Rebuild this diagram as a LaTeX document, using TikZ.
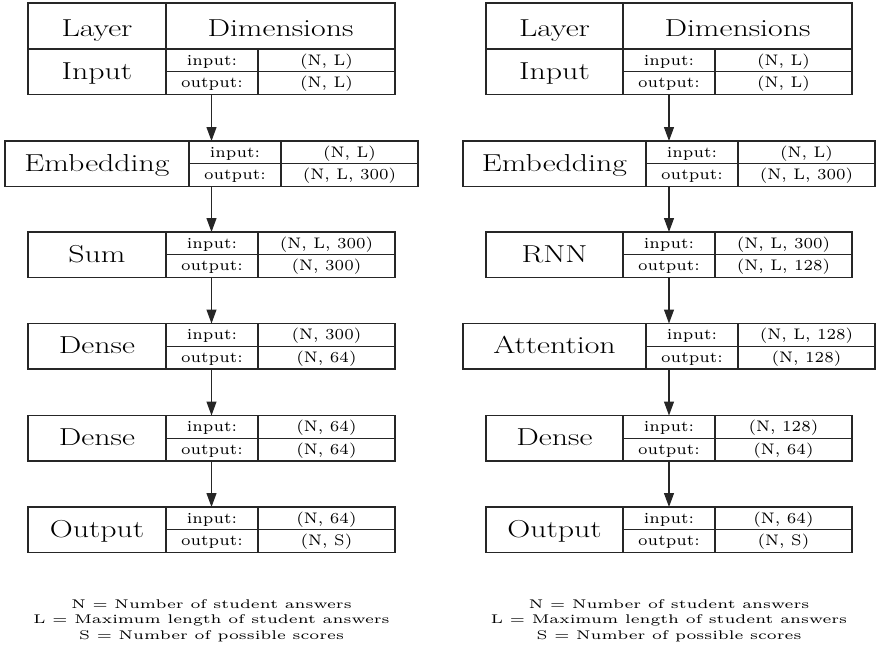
\documentclass[tikz,border=0pt]{standalone}
\usepackage{graphicx}
\usetikzlibrary{arrows.meta}
\newcommand{\bigtxt}[1]{\scalebox{1.3}[1]{\fontsize{24.5}{28}\selectfont #1}}
\newcommand{\smtxt}[1]{\scalebox{2.6}[2.55]{\fontsize{6}{7}\selectfont #1}}
\newcommand{\legtxt}[1]{\scalebox{2.7}[2.1]{\fontsize{6}{7}\selectfont #1}}
\tikzset{
  rule/.style={line width=1.2pt, draw=black!85},
  boxcell/.style={rule, rectangle, inner sep=0pt, outer sep=0pt, minimum height=45.5pt},
  txt/.style={inner sep=0pt, anchor=base},
  arr/.style={line width=1.2pt, draw=black!85, fill=black, -{Triangle[width=10pt,length=14pt]}},
}
% #1 name, #2 xL, #3 xA, #4 yT, #5 title, #6 in, #7 out
\newcommand{\layerbox}[7]{%
  \node[boxcell, minimum width={(#3+229-(#2))*1pt}, anchor=north west] (#1) at (#2,#4) {};
  \node[txt] (#1-t) at ({(#2+#3)/2},{#4+30}) {\bigtxt{#5}};
  \draw[rule] (#3,#4) -- ++(0,45.5);
  \draw[rule] (#3+92,#4) -- ++(0,45.5);
  \draw[rule] (#3,#4+22.75) -- ++(229,0);
  \node[txt] (#1-il) at ({#3+46},{#4+16.2}) {\smtxt{input:}};
  \node[txt] (#1-iv) at ({#3+160.5},{#4+16.2}) {\smtxt{#6}};
  \node[txt] (#1-ol) at ({#3+46},{#4+38.9}) {\smtxt{output:}};
  \node[txt] (#1-ov) at ({#3+160.5},{#4+38.9}) {\smtxt{#7}};
}
\newcommand{\headbox}[4]{%
  % #1 name, #2 xL, #3 xA, #4 yT
  \node[boxcell, minimum width=229pt+(#3-(#2))*1pt, minimum height=46pt, anchor=north west] (#1) at (#2,#4) {};
  \draw[rule] (#3,#4) -- ++(0,46);
  \node[txt] (#1-a) at ({(#2+#3)/2},{#4+33.5}) {\bigtxt{Layer}};
  \node[txt] (#1-b) at ({#3+114.5},{#4+33.5}) {\bigtxt{Dimensions}};
}
\begin{document}
\begin{tikzpicture}[x=1pt, y=-1pt]
\useasboundingbox (0,0) rectangle (876,648);
% ---------- left model ----------
\headbox{Lh}{28}{166}{3}
\layerbox{La}{28}{166}{49}{Input}{(N, L)}{(N, L)}
\layerbox{Lb}{5}{189}{141}{Embedding}{(N, L)}{(N, L, 300)}
\layerbox{Lc}{28}{166}{232}{Sum}{(N, L, 300)}{(N, 300)}
\layerbox{Ld}{28}{166}{323.5}{Dense}{(N, 300)}{(N, 64)}
\layerbox{Le}{28}{166}{415.5}{Dense}{(N, 64)}{(N, 64)}
\layerbox{Lf}{28}{166}{507}{Output}{(N, 64)}{(N, S)}
\draw[arr] (La.south) -- (Lb.north);
\draw[arr] (Lb.south) -- (Lc.north);
\draw[arr] (Lc.south) -- (Ld.north);
\draw[arr] (Ld.south) -- (Le.north);
\draw[arr] (Le.south) -- (Lf.north);
% ---------- right model ----------
\headbox{Rh}{486}{623}{3}
\layerbox{Ra}{486}{623}{49}{Input}{(N, L)}{(N, L)}
\layerbox{Rb}{463}{646}{141}{Embedding}{(N, L)}{(N, L, 300)}
\layerbox{Rc}{486}{623}{232}{RNN}{(N, L, 300)}{(N, L, 128)}
\layerbox{Rd}{463}{646}{323.5}{Attention}{(N, L, 128)}{(N, 128)}
\layerbox{Re}{486}{623}{415.5}{Dense}{(N, 128)}{(N, 64)}
\layerbox{Rf}{486}{623}{507}{Output}{(N, 64)}{(N, S)}
\draw[arr] (Ra.south) -- (Rb.north);
\draw[arr] (Rb.south) -- (Rc.north);
\draw[arr] (Rc.south) -- (Rd.north);
\draw[arr] (Rd.south) -- (Re.north);
\draw[arr] (Re.south) -- (Rf.north);
% ---------- legends ----------
\node[txt] (Lk1) at (211.5,608) {\legtxt{N = Number of student answers}};
\node[txt] (Lk2) at (211.5,623.5) {\legtxt{L = Maximum length of student answers}};
\node[txt] (Lk3) at (211.5,639) {\legtxt{S = Number of possible scores}};
\node[txt] (Rk1) at (669,608) {\legtxt{N = Number of student answers}};
\node[txt] (Rk2) at (669,623.5) {\legtxt{L = Maximum length of student answers}};
\node[txt] (Rk3) at (669,639) {\legtxt{S = Number of possible scores}};
\end{tikzpicture}
\end{document}
